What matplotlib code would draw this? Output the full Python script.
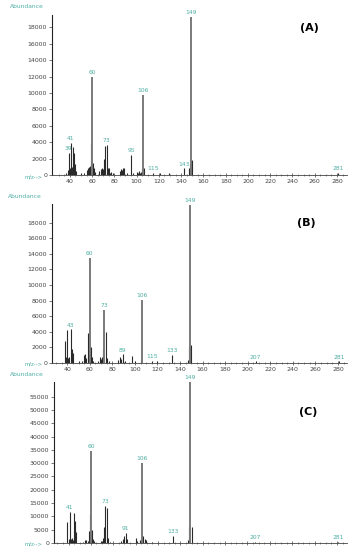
import matplotlib
matplotlib.use('Agg')
from matplotlib import pyplot as plt
import numpy as np

# panel A
mz_a = [37,38,39,40,41,42,43,44,45,46,50,53,55,56,57,58,59,60,61,62,63,66,68,69,70,71,72,73,74,75,76,77,79,
        85,86,87,88,89,91,95,97,100,101,102,103,104,105,106,107,115,121,129,143,147,148,149,150,281]
ab_a = [300,600,2650,800,3850,1000,3400,2700,1400,500,200,300,600,900,1000,1100,3800,11900,1500,800,400,500,700,800,700,2000,3500,3700,900,800,300,400,300,
        500,700,600,800,900,300,2450,300,400,300,500,300,400,700,9800,800,200,300,300,800,900,1400,19300,1800,300]
lab_a = [39,41,60,73,95,106,115,143,149,281]

# panel B
mz_b = [38,39,40,41,42,43,44,45,50,53,55,56,57,58,59,60,61,62,63,67,69,70,71,72,73,74,75,77,
        85,87,88,89,91,97,100,105,106,115,120,133,147,148,149,150,207,281]
ab_b = [2800,800,4250,700,800,4300,1800,1300,300,300,1000,1100,700,3900,1000,13500,2100,800,300,300,800,500,800,1800,6800,4000,600,300,
        400,800,500,1100,300,900,300,400,8100,300,200,1000,400,2000,20300,2300,200,200]
lab_b = [43,60,73,89,106,115,133,149,207,281]

# panel C
mz_c = [39,40,41,42,43,44,45,46,47,53,55,56,57,58,59,60,61,62,63,69,70,71,72,73,74,75,77,
        87,89,90,91,92,100,101,104,105,106,107,108,109,115,133,147,148,149,150,207,281]
ab_c = [7800,1500,11800,1500,1800,1000,11200,8300,4000,500,1000,1200,900,4600,11000,34500,4700,1500,600,700,800,1800,6200,14000,13000,2000,500,
        800,1500,2500,3700,1500,2000,800,1200,1000,30000,2500,1500,1000,300,2800,1000,6000,60500,6000,300,300]
lab_c = [41,60,73,91,106,133,149,207,281]

W, H = 350, 547
teal = '#4faea4'

fig = plt.figure(figsize=(3.5, 5.47), dpi=100)

def panel(x0, top, base, xlim, ymax, yticks, mz, ab, labs, name, namexy, abund_xy, mz_xy, xlabels=True):
    ax = fig.add_axes([x0 / W, (H - base) / H, (347 - x0) / W, (base - top) / H])
    ax.set_xlim(xlim)
    ax.set_ylim(0, ymax)
    big = max(ab) * 0.25
    # peaks as sticks
    for m, a in zip(mz, ab):
        if a > big:
            ax.vlines(m, 0, a, color='#7a7a7a', lw=1.4)
        else:
            ax.vlines(m, 0, a, color='#2a2a2a', lw=0.8)
    for m in labs:
        a = ab[mz.index(m)]
        ax.text(m, a + ymax * 0.012, str(m), ha='center', va='bottom', fontsize=4.3, color=teal)
    for s in ['top', 'right']:
        ax.spines[s].set_visible(False)
    ax.spines['left'].set_color('#222222')
    ax.spines['bottom'].set_color('#444444')
    ax.spines['left'].set_linewidth(0.8)
    ax.spines['bottom'].set_linewidth(0.6)
    ax.set_yticks([0] + yticks)
    ax.set_yticklabels(['0'] + [str(v) for v in yticks])
    ax.set_xticks(np.arange(40, 281, 20))
    ax.set_xticks(np.arange(30, 286, 5), minor=True)
    if not xlabels:
        ax.set_xticklabels([])
    ax.tick_params(axis='both', labelsize=4.5, colors='#444444', length=2, width=0.5, pad=1.5)
    ax.tick_params(axis='x', direction='inout', length=3)
    ax.tick_params(axis='x', which='minor', direction='inout', length=2, width=0.4, colors='#444444')
    fig.text(abund_xy[0] / W, 1 - abund_xy[1] / H, 'Abundance', fontsize=4.3, color=teal, va='center')
    fig.text(mz_xy[0] / W, 1 - mz_xy[1] / H, 'm/z-->', fontsize=3.8, color=teal, va='center', ha='right')
    fig.text(namexy[0] / W, 1 - namexy[1] / H, name, fontsize=8, fontweight='bold', ha='center', va='center')
    return ax

panel(52, 15, 175, (24, 289), 19500, list(range(2000, 18001, 2000)), mz_a, ab_a, lab_a,
      '(A)', (309, 28), (10, 7), (42, 177))
panel(52, 204, 363, (26.5, 288), 20400, list(range(2000, 18001, 2000)), mz_b, ab_b, lab_b,
      '(B)', (306, 223), (8, 196), (42, 364))
panel(54, 382, 543, (27, 289), 60500, list(range(5000, 55001, 5000)), mz_c, ab_c, lab_c,
      '(C)', (308, 412), (10, 375), (42, 544), xlabels=False)

plt.savefig('out.png', dpi=100)
